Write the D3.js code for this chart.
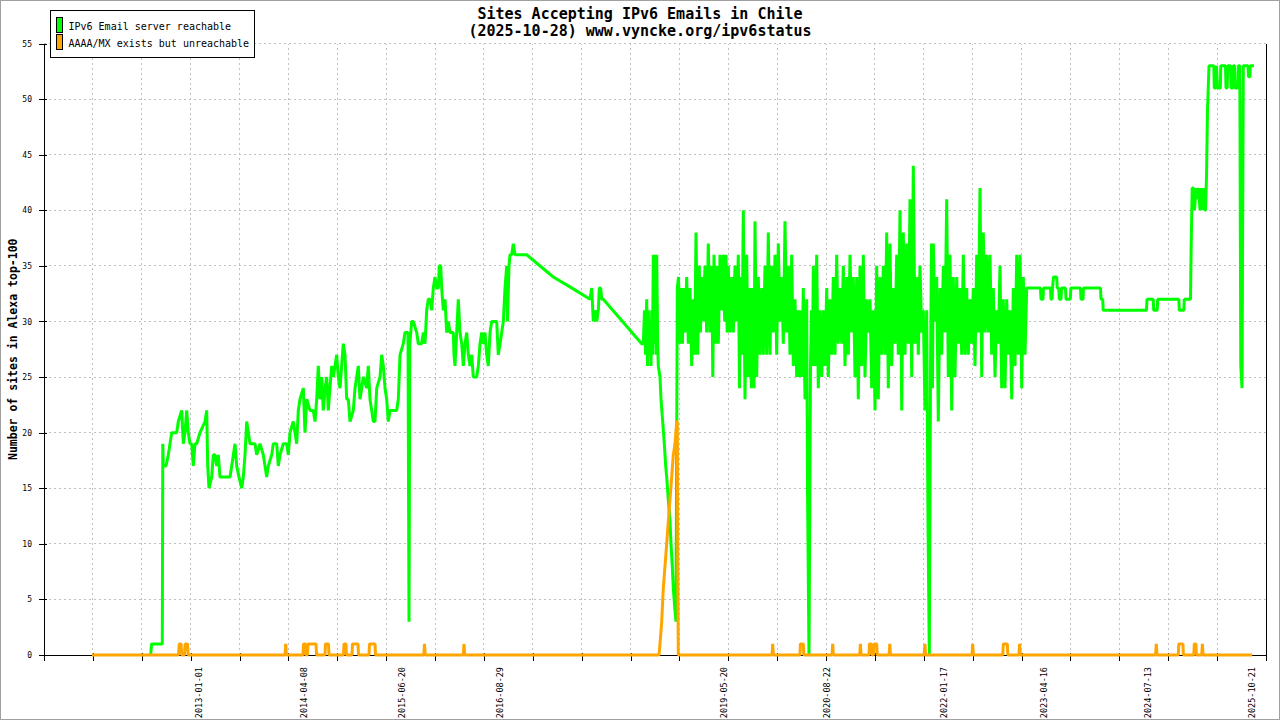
<!DOCTYPE html>
<html lang="en">
<head>
    <meta charset="UTF-8">
    <title>Sites Accepting IPv6 Emails in Chile</title>
    <style>
        body { margin: 0; background: #fff; }
        svg { display: block; }
        text { font-family: "DejaVu Sans Mono", monospace; fill: #000; }
    </style>
</head>
<body>
    <div class="graph-container"></div>

    <script src="https://d3js.org/d3.v7.min.js"></script>
    <script>
        // Series: [sample position on the x axis, number of sites]
        var reachable = [
            [106.7,0],[107.5,1],[118.3,1],[118.8,19],[119.3,17],[122,17],[124.3,18],[126,19],[127.7,20],[132.7,20],
            [134.3,21],[137.7,22],[139.3,19],[141,20],[142.7,22],[144.3,20],[146,19],[147.7,19],[149.3,17],[151,19],
            [152.7,19],[156,20],[161,21],[162.7,22],[163.7,17],[165,15],[167.7,16],[169.3,18],[171,18],[172.7,17],
            [174.3,18],[176,16],[179.3,16],[186,16],[187.7,17],[191,19],[192.7,17],[195,16],[197.7,15],[199.3,16],
            [201,18],[202.7,21],[206,19],[211,19],[212.7,18],[216,19],[219.3,18],[222.7,16],[224.3,17],[227.7,18],
            [229.3,19],[232.7,19],[234.3,17],[236,18],[239.3,19],[242.7,19],[244.3,18],[246,20],[249.3,21],[252.7,19],
            [254.3,22],[256,23],[259.3,24],[261,20],[262.7,23],[266,22],[269.3,22],[271,21],[272.7,23],[274.3,26],
            [276,23],[277.7,25],[279.3,22],[281,24],[282.7,25],[284.3,22],[287.7,26],[289.3,25],[292.7,27],[294.3,25],
            [296,24],[299.3,28],[301,27],[302.7,23],[304.3,23],[306,21],[309.3,22],[311,24],[312.7,25],[314.3,26],
            [316,23],[317.7,24],[319.3,25],[322.7,24],[324.3,26],[326,23],[327.7,22],[329.3,21],[331,21],[332.7,24],
            [336,25],[337.7,27],[339.3,26],[341,24],[342.7,23],[344.3,21],[346,22],[352.7,22],[354.3,23],[356,27],
            [359.3,28],[361,29],[364,29],[365,3],[365.8,28],[367.7,30],[369.3,30],[372.7,29],[374.3,28],[377.7,28],
            [379.3,29],[381,28],[382.7,31],[384.3,32],[386,32],[387.7,31],[389.3,33],[391,34],[392.7,33],[394.3,33],
            [395.3,35],[396.7,35],[397.7,33],[399.3,31],[401,32],[402.7,29],[404.3,30],[406,29],[409.3,29],[410,27],
            [411,26],[412.7,29],[414.3,32],[416,29],[417.7,28],[419.3,26],[421,28],[422.7,29],[424.3,27],[426,26],
            [427.7,27],[429.3,25],[432.7,25],[434.3,26],[436,28],[437.7,29],[439.3,28],[441,29],[442.7,27],[444.3,26],
            [446,29],[447.7,30],[452.7,30],[454.3,27],[456,28],[457.7,29],[459.3,30],[461,33],[462.7,35],[463.5,30],
            [465,35],[466,36],[467.7,36],[469.3,37],[471,36],[482.7,36],[509.3,34],[528,33],[546,32],[547.7,33],
            [549.3,30],[551,31],[552.7,30],[554.3,31],[555.3,33],[556.7,33],[557.7,32],[559.3,32],[597.7,28],[599.3,28],
            [600.5,31],[601.5,27],[602.7,32],[603.5,26],[604.3,31],[605.2,27],[606,30],[607,26],[607.7,31],[608.5,27],
            [609.3,36],[610.3,28],[611,36],[612,27],[612.7,36],[613.7,28],[614.3,26],[616,25],[617,23],[618.7,21],
            [620.3,19],[621.7,17],[622.7,16],[624.3,14],[626,12],[627,10],[628.3,8],[629.3,6],[631,4],[632,3],
            [633.3,33],[634.5,34],[636,28],[637.5,33],[638.5,28],[639.3,33],[641,29],[642.7,34],[644.3,28],[646,33],
            [647.7,26],[649.3,32],[650.7,27],[652,38],[653.7,27],[655.3,35],[656.5,29],[657.7,34],[659.3,30],[661,35],
            [662.7,29],[664.3,37],[666,29],[667.7,35],[668.8,25],[670,36],[671.3,28],[672.7,35],[674.3,28],[676,36],
            [677.7,31],[679.3,36],[680.7,30],[682,36],[683.2,29],[684.3,35],[686,29],[687.7,34],[689.3,29],[691,35],
            [692.7,30],[694.3,36],[695.5,24],[696.7,34],[698,27],[699.3,40],[701,23],[702.7,36],[704.3,25],[706,33],
            [707.3,24],[708.7,33],[710,24],[711,39],[712.7,25],[714.3,34],[716,27],[717.7,33],[719.3,27],[721,35],
            [722.7,27],[724.3,38],[726,27],[727.7,35],[729.3,29],[731,36],[732.7,27],[734.3,37],[736,30],[737.7,34],
            [739.3,28],[741,39],[742.7,29],[744.3,35],[746,27],[747.7,36],[749.3,26],[751,32],[752.7,25],[754.3,31],
            [755.5,25],[756.8,31],[758,25],[759.3,33],[761,23],[762.7,32],[763.5,15],[765,0],[766.5,26],[767.5,31],
            [768.5,26],[769.3,35],[771,26],[772.7,36],[774.3,24],[776,31],[777.7,25],[779.3,31],[781,26],[782.7,33],
            [784.3,25],[786,32],[787.7,27],[789.3,34],[791,27],[792.7,36],[794.3,28],[796,33],[797.7,28],[799.3,35],
            [801,26],[802.7,34],[804.3,27],[806,36],[807.7,29],[809.3,34],[811,25],[812.7,34],[814.3,23],[816,35],
            [817.7,26],[819.3,36],[821,25],[822.7,32],[824.3,29],[826,32],[827.7,24],[829.3,31],[831,22],[832.7,35],
            [834.3,23],[836,34],[837.7,27],[839.3,35],[841,27],[842.7,38],[844.3,24],[846,37],[847.7,26],[849.3,33],
            [851,28],[852.7,36],[854.3,27],[856,40],[857.7,22],[859.3,38],[861,27],[862.7,37],[864.3,28],[866,41],
            [867.7,25],[869.3,44],[871,28],[872.7,34],[874.3,27],[876,35],[877.7,29],[879.3,31],[881,22],[882.7,31],
            [884,12],[885.3,0],[886.5,25],[887.5,37],[888.5,24],[889.3,37],[891,30],[892.7,34],[894.3,21],[896,33],
            [897.7,27],[899.3,35],[901,29],[902.7,41],[904.3,25],[906,36],[907.7,22],[909.3,34],[911,25],[912.7,34],
            [914.3,28],[916,33],[917.7,27],[919.3,36],[921,27],[922.7,33],[924.3,27],[926,32],[927.7,28],[929.3,33],
            [931,26],[932.7,36],[934.3,29],[936,42],[937.7,25],[939.3,38],[941,29],[942.7,36],[944.3,29],[946,36],
            [947.7,27],[949.3,33],[951,25],[952.7,31],[954.3,28],[956,35],[957.7,24],[959.3,32],[961,24],[962.7,32],
            [964.3,27],[966,31],[967.7,23],[969.3,33],[971,26],[972.7,36],[974.3,27],[976,36],[977.7,24],[979.3,34],
            [981,27],[982.7,33],[984.8,33],[996.5,33],[997,32],[999,32],[999.5,33],[1006.5,33],[1007,32],[1008,32],
            [1008.5,33],[1009.5,34],[1012.7,34],[1013.2,33],[1014.8,33],[1015.3,32],[1017,32],[1017.5,33],[1021.5,33],[1022,32],
            [1026.3,32],[1026.8,33],[1036.5,33],[1037,32],[1039,32],[1039.5,33],[1056.5,33],[1057,32],[1058.7,32],[1059.2,31],
            [1102.5,31],[1103,32],[1109.2,32],[1109.7,31],[1113.2,31],[1113.7,32],[1134.8,32],[1135.3,31],[1139.8,31],[1140.3,32],
            [1146.5,32],[1147.2,37],[1148.2,42],[1149.5,42],[1150.5,40],[1152,42],[1153,41],[1154.5,42],[1156,40],[1157.5,42],
            [1159,40],[1160,42],[1161,40],[1161.5,40],[1162.5,43],[1163.5,49],[1165,53],[1169.8,53],[1170.3,51],[1172,51],
            [1172.5,53],[1173.5,51],[1176.3,51],[1176.8,53],[1181.5,53],[1182,51],[1183.2,51],[1183.7,53],[1186.5,53],[1187,51],
            [1188.8,51],[1189.3,53],[1190.5,53],[1191,51],[1193.8,51],[1194.3,53],[1195.8,53],[1196.8,26],[1198,24],[1199.3,53],
            [1204,53],[1204.5,52],[1205.8,52],[1206.3,53],[1210,53]
        ];

        var unreachable = [
            [48,0],[134.5,0],[135.3,1],[137,1],[137.8,0],[140.5,0],[141.2,1],[143.5,1],[144.2,0],
            [241,0],[241.7,1],[242.4,0],[259,0],[259.5,1],[261.5,1],[262,0],[263.5,0],[264,1],[272,1],[272.5,0],
            [281,0],[281.5,1],[284.5,1],[285,0],[299.5,0],[300,1],[302,1],[302.5,0],[308,0],[308.5,1],[314,1],[314.5,0],
            [325,0],[325.5,1],[331,1],[331.5,0],[379.8,0],[380.5,1],[381.2,0],[419.3,0],[420,1],[420.7,0],
            [615,0],[616,1],[617.7,3],[619.3,6],[621,8],[622.7,10],[624.3,12],[626,14],[627.7,16],[629.3,18],
            [631,19],[632.7,21],[633.3,21],[633.7,10],[634.3,0],
            [728,0],[728.7,1],[729.4,0],[756,0],[756.4,1],[759.3,1],[759.8,0],[788,0],[788.7,1],[789.4,0],
            [815.7,0],[816.4,1],[817.1,0],[825,0],[825.4,1],[827.5,1],[828,0],[829.5,0],[830,1],[832.7,1],[833.2,0],
            [845.1,0],[845.8,1],[846.5,0],[880.2,0],[880.9,1],[881.6,0],[928,0],[928.7,1],[929.4,0],
            [958.8,0],[959.3,1],[963.3,1],[963.8,0],[974.9,0],[975.6,1],[976.3,0],
            [1111.6,0],[1112.3,1],[1113,0],[1134.3,0],[1134.8,1],[1138.9,1],[1139.4,0],
            [1149.8,0],[1150.3,1],[1151.9,1],[1152.4,0],[1157.7,0],[1158.4,1],[1159.1,0],[1208.2,0]
        ];

        // Date labels and the sample position they sit at
        var dateLabels = ["2013-01-01", "2014-04-08", "2015-06-20", "2016-08-29", "2019-05-20",
                          "2020-08-22", "2022-01-17", "2023-04-16", "2024-07-13", "2025-10-21"];
        var datePositions = [154.6, 259.5, 357.5, 455.5, 679.7, 783, 899.5, 999.5, 1103.5, 1207.5];

        var yTickValues = [0, 5, 10, 15, 20, 25, 30, 35, 40, 45, 50, 55];
        var seriesNames = ["IPv6 Email server reachable", "AAAA/MX exists but unreachable"];
        var seriesColors = ["#00ff00", "#ffa500"];

        var xMax = 1222;      // number of sample slots on the axis
        var xTickCount = 25;

        var canvasWidth = 1280;
        var canvasHeight = 720;
        var margin = { top: 43.5, right: 14, bottom: 65, left: 44 };

        var x = d3.scaleLinear()
            .domain([0, xMax])
            .range([margin.left, canvasWidth - margin.right]);

        var y = d3.scaleLinear()
            .domain([0, 55])
            .range([canvasHeight - margin.bottom, margin.top]);

        var xTicks = d3.range(0, xTickCount + 1).map(function(i) { return i * xMax / xTickCount; });

        var svg = d3.select(".graph-container")
            .append("svg")
            .attr("width", canvasWidth)
            .attr("height", canvasHeight);

        svg.append("rect")
            .attr("width", canvasWidth)
            .attr("height", canvasHeight)
            .attr("fill", "#fff")
            .attr("stroke", "#a0a0a0")
            .attr("stroke-width", 2);

        // Dashed grid
        var grid = svg.append("g").attr("shape-rendering", "crispEdges")
            .attr("stroke", "#c0c0c0").attr("stroke-dasharray", "2,3");

        grid.selectAll(".hgrid")
            .data(yTickValues.slice(1))
            .enter().append("line")
                .attr("x1", x(0)).attr("x2", x(xMax))
                .attr("y1", function(d) { return y(d); })
                .attr("y2", function(d) { return y(d); });

        grid.selectAll(".vgrid")
            .data(xTicks.slice(1, -1))
            .enter().append("line")
                .attr("x1", function(d) { return x(d); })
                .attr("x2", function(d) { return x(d); })
                .attr("y1", y(0)).attr("y2", y(55));

        // Right frame line
        svg.append("line")
            .attr("shape-rendering", "crispEdges")
            .attr("stroke", "#000")
            .attr("x1", x(xMax)).attr("x2", x(xMax))
            .attr("y1", y(0)).attr("y2", y(55));

        // Axes (drawn under the series, the orange zero line covers the x axis)
        var xAxis = svg.append("g")
            .attr("transform", "translate(0," + y(0) + ")")
            .attr("shape-rendering", "crispEdges")
            .call(d3.axisBottom(x).tickValues(xTicks).tickFormat("").tickSize(6).tickSizeOuter(0));
        xAxis.selectAll(".tick line").attr("y1", -2);

        var dateAxis = svg.append("g")
            .attr("transform", "translate(0," + y(0) + ")")
            .call(d3.axisBottom(x).tickValues(datePositions)
                .tickFormat(function(d, i) { return dateLabels[i]; })
                .tickSize(0));
        dateAxis.select(".domain").remove();
        dateAxis.selectAll("text")
            .attr("font-family", "DejaVu Sans Mono, monospace")
            .attr("font-size", 8.5)
            .attr("text-anchor", "end")
            .attr("transform", "rotate(-90)")
            .attr("x", -12)
            .attr("y", 0)
            .attr("dy", "0.35em");

        var yAxis = svg.append("g")
            .attr("transform", "translate(" + x(0) + ",0)")
            .attr("shape-rendering", "crispEdges")
            .call(d3.axisLeft(y).tickValues(yTickValues).tickSize(5).tickPadding(7).tickSizeOuter(0));
        yAxis.selectAll(".tick line").attr("x1", 3);
        yAxis.selectAll("text")
            .attr("font-family", "DejaVu Sans Mono, monospace")
            .attr("font-size", 8);

        // Series lines: green first, orange drawn on top
        var line = d3.line()
            .x(function(d) { return x(d[0]); })
            .y(function(d) { return y(d[1]); });

        [reachable, unreachable].forEach(function(series, i) {
            svg.append("path")
                .datum(series)
                .attr("fill", "none")
                .attr("stroke", seriesColors[i])
                .attr("stroke-width", 3)
                .attr("stroke-linejoin", "bevel")
                .attr("d", line);
        });

        // Titles
        svg.append("text")
            .attr("x", 640).attr("y", 18.5)
            .attr("text-anchor", "middle")
            .attr("font-size", 15).attr("font-weight", "bold")
            .text("Sites Accepting IPv6 Emails in Chile");
        svg.append("text")
            .attr("x", 640).attr("y", 35.5)
            .attr("text-anchor", "middle")
            .attr("font-size", 15).attr("font-weight", "bold")
            .text("(2025-10-28) www.vyncke.org/ipv6status");

        svg.append("text")
            .attr("transform", "translate(17," + ((y(0) + y(55)) / 2) + ") rotate(-90)")
            .attr("text-anchor", "middle")
            .attr("font-size", 11.5).attr("font-weight", "bold")
            .text("Number of sites in Alexa top-100");

        // Legend
        var legend = svg.append("g").attr("transform", "translate(50.5,10.5)");
        legend.append("rect")
            .attr("width", 204).attr("height", 47)
            .attr("fill", "#fff").attr("stroke", "#000");
        var items = legend.selectAll(".item")
            .data(seriesNames)
            .enter().append("g")
                .attr("transform", function(d, i) { return "translate(6," + (7 + i * 17) + ")"; });
        items.append("rect")
            .attr("width", 6).attr("height", 15)
            .attr("fill", function(d, i) { return seriesColors[i]; })
            .attr("stroke", "#000");
        items.append("text")
            .attr("x", 12).attr("y", 12)
            .attr("font-size", 10)
            .text(function(d) { return d; });
    </script>
</body>
</html>
